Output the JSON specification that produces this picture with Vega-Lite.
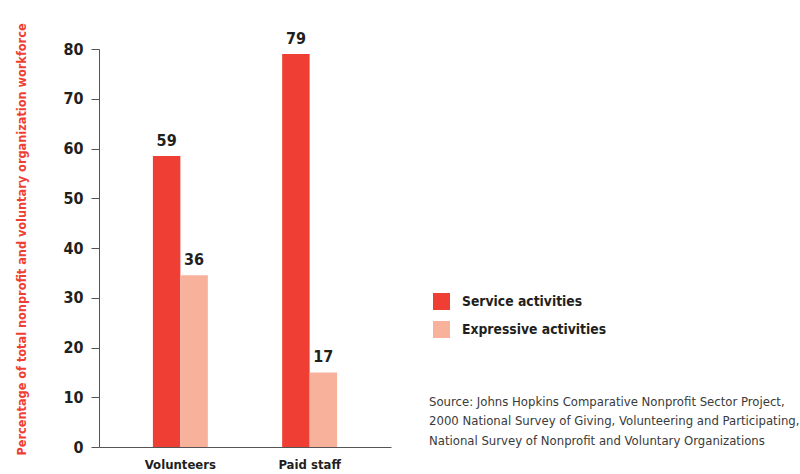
{
  "$schema": "https://vega.github.io/schema/vega-lite/v6.json",
  "width": 292,
  "height": 398,
  "autosize": {"type": "none"},
  "padding": {"left": 99, "top": 49, "right": 409, "bottom": 27},
  "background": "white",
  "config": {"view": {"stroke": null}, "font": "DejaVu Sans Condensed, Roboto"},
  "title": {
    "text": ["Source:  Johns Hopkins Comparative Nonprofit Sector Project,", "2000 National Survey of Giving, Volunteering and Participating,", "National Survey of Nonprofit and Voluntary Organizations"],
    "orient": "top", "anchor": "start", "frame": "group", "offset": 0, "baseline": "top",
    "dx": 330, "dy": 425, "font": "DejaVu Sans Condensed, Roboto", "fontSize": 13, "fontWeight": "normal", "color": "#3a3a3a", "lineHeight": 19.5
  },
  "data": {"values": [
    {"workforce": "Volunteers", "activity": "Service activities", "value": 58.5, "label": 59},
    {"workforce": "Volunteers", "activity": "Expressive activities", "value": 34.5, "label": 36},
    {"workforce": "Paid staff", "activity": "Service activities", "value": 79, "label": 79},
    {"workforce": "Paid staff", "activity": "Expressive activities", "value": 15, "label": 17}
  ]},
  "encoding": {
    "x": {"field": "workforce", "type": "nominal", "sort": ["Volunteers", "Paid staff"],
      "scale": {"paddingInner": 0.575, "paddingOuter": 0.417},
      "axis": {"title": null, "labelAngle": 0, "ticks": false, "domainColor": "#555555", "domainWidth": 1, "labelPadding": 11, "labelBaseline": "top", "labelFont": "DejaVu Sans Condensed, Roboto", "labelFontSize": 13, "labelFontWeight": "bold", "labelColor": "#231f20"}},
    "xOffset": {"field": "activity", "type": "nominal", "sort": ["Service activities", "Expressive activities"]}
  },
  "layer": [
    {
      "mark": {"type": "bar"},
      "encoding": {
        "y": {"field": "value", "type": "quantitative", "scale": {"domain": [0, 80], "nice": false},
          "axis": {"title": "Percentage of total nonprofit and voluntary organization workforce", "values": [0, 10, 20, 30, 40, 50, 60, 70, 80], "grid": false,
            "domainColor": "#555555", "tickColor": "#555555", "tickSize": 8, "labelPadding": 8,
            "labelFont": "DejaVu Sans Condensed, Roboto", "labelFontSize": 16, "labelFontWeight": "bold", "labelColor": "#231f20",
            "titleFont": "DejaVu Sans Condensed, Roboto", "titleFontSize": 12.6, "titleFontWeight": "bold", "titleColor": "#ef3e33",
            "titleAngle": -90, "titleAlign": "center", "titleBaseline": "bottom", "titleX": -71, "titleY": 190}},
        "color": {"field": "activity", "type": "nominal",
          "scale": {"domain": ["Service activities", "Expressive activities"], "range": ["#ef3e33", "#f8b19b"]},
          "legend": {"title": null, "orient": "none", "legendX": 334, "legendY": 244, "symbolType": "square", "symbolSize": 289, "symbolStrokeWidth": 0, "symbolOpacity": 1,
            "labelFont": "DejaVu Sans Condensed, Roboto", "labelFontSize": 13.8, "labelFontWeight": "bold", "labelColor": "#231f20", "labelOffset": 12, "rowPadding": 11}}
      }
    },
    {
      "mark": {"type": "text", "baseline": "alphabetic", "dy": -10, "font": "DejaVu Sans Condensed, Roboto", "fontSize": 16, "fontWeight": "bold", "color": "#231f20"},
      "encoding": {
        "y": {"field": "value", "type": "quantitative"},
        "text": {"field": "label", "type": "quantitative"}
      }
    }
  ]
}
